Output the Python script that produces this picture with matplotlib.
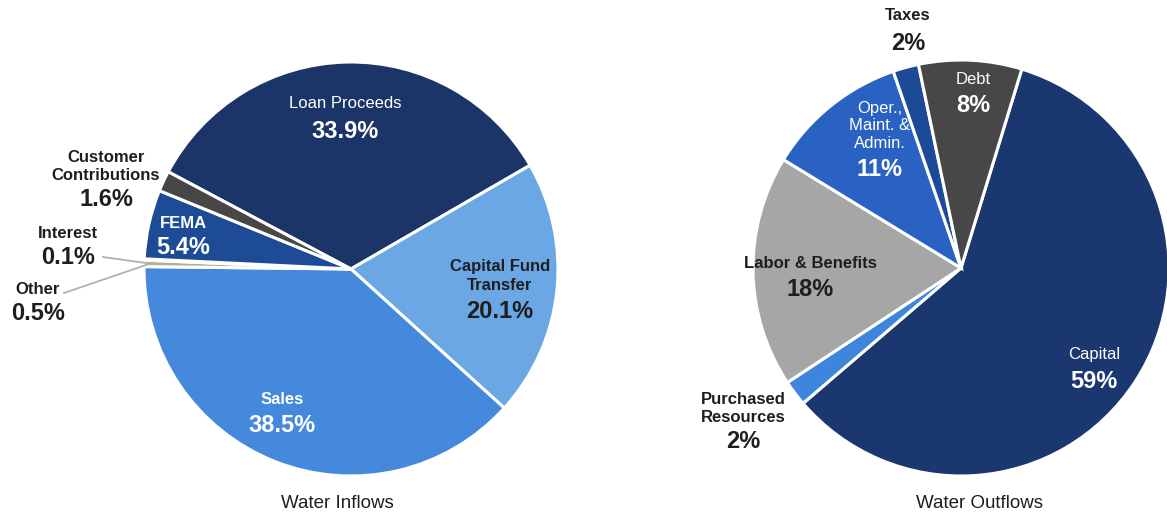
import matplotlib
matplotlib.use("Agg")
import matplotlib.pyplot as plt

plt.rcParams['font.family'] = ['Liberation Sans', 'DejaVu Sans']

# Inflows (clockwise from upper left)
in_labels = ["Loan Proceeds", "Capital Fund\nTransfer", "Sales", "Other", "Interest", "FEMA", "Customer\nContributions"]
in_values = [33.9, 20.1, 38.5, 0.5, 0.1, 5.4, 1.6]
in_colors = ["#1c3568", "#6ba7e5", "#4489db", "#b4ae9f", "#9c9a94", "#1d4b95", "#474747"]

# Outflows (clockwise from top)
out_labels = ["Capital", "Purchased\nResources", "Labor & Benefits", "Oper.,\nMaint. &\nAdmin.", "Taxes", "Debt"]
out_values = [59, 2, 18, 11, 2, 8]
out_colors = ["#1b3770", "#3d86dc", "#a6a6a6", "#2a62c4", "#1c4a96", "#474747"]

W, H = 1167, 519
fig = plt.figure(figsize=(W / 100, H / 100), dpi=100)
ax = fig.add_axes([0, 0, 1, 1])

def Y(y):
    return H - y

wp = dict(edgecolor="white", linewidth=2.2)
ax.pie(in_values, colors=in_colors, startangle=152, counterclock=False,
       center=(351, Y(269)), radius=207, wedgeprops=wp, frame=True)
ax.pie(out_values, colors=out_colors, startangle=73, counterclock=False,
       center=(961, Y(268)), radius=208, wedgeprops=wp, frame=True)
ax.set_xlim(0, W)
ax.set_ylim(0, H)
ax.set_aspect('equal')
ax.axis('off')

def label(x, y_name, y_pct, name, pct, color, name_size=12, pct_size=17, name_bold=True):
    ax.text(x, Y(y_name), name, ha="center", va="center", color=color,
            fontsize=name_size, fontweight="bold" if name_bold else "normal",
            linespacing=1.25)
    ax.text(x, Y(y_pct), pct, ha="center", va="center", color=color,
            fontsize=pct_size, fontweight="bold")

dark = "#1e1e1e"
# Inflow labels
label(345, 103, 131, in_labels[0], f"{in_values[0]}%", "white", name_bold=False)
label(500, 276, 311, in_labels[1], f"{in_values[1]}%", dark)
label(282, 400, 425, in_labels[2], f"{in_values[2]}%", "white")
label(38, 289, 314, in_labels[3], f"{in_values[3]}%", dark)
label(68, 233, 258, in_labels[4], f"{in_values[4]}%", dark)
label(183, 224, 248, in_labels[5], f"{in_values[5]}%", "white")
label(106, 166, 200, in_labels[6], f"{in_values[6]}%", dark)

# leader lines for tiny slices
ax.plot([103, 146], [Y(257), Y(263)], color="#b0b0b0", lw=1.3)
ax.plot([64, 146], [Y(293), Y(265)], color="#b0b0b0", lw=1.3)

# Outflow labels
label(1094, 355, 381, out_labels[0], f"{out_values[0]}%", "white", name_bold=False)
label(743, 409, 441, out_labels[1], f"{out_values[1]}%", dark)
label(810, 263, 289, out_labels[2], f"{out_values[2]}%", dark)
label(880, 126, 170, out_labels[3], f"{out_values[3]}%", "white", name_bold=False)
label(908, 16, 43, out_labels[4], f"{out_values[4]}%", dark)
label(973, 80, 105, out_labels[5], f"{out_values[5]}%", "white", name_bold=False)

ax.text(337, Y(503), "Water Inflows", ha="center", va="center", fontsize=13.5,
        color="#1e1e1e")
ax.text(980, Y(503), "Water Outflows", ha="center", va="center", fontsize=13.5,
        color="#1e1e1e")

fig.savefig("out.png", dpi=100, facecolor="white")
